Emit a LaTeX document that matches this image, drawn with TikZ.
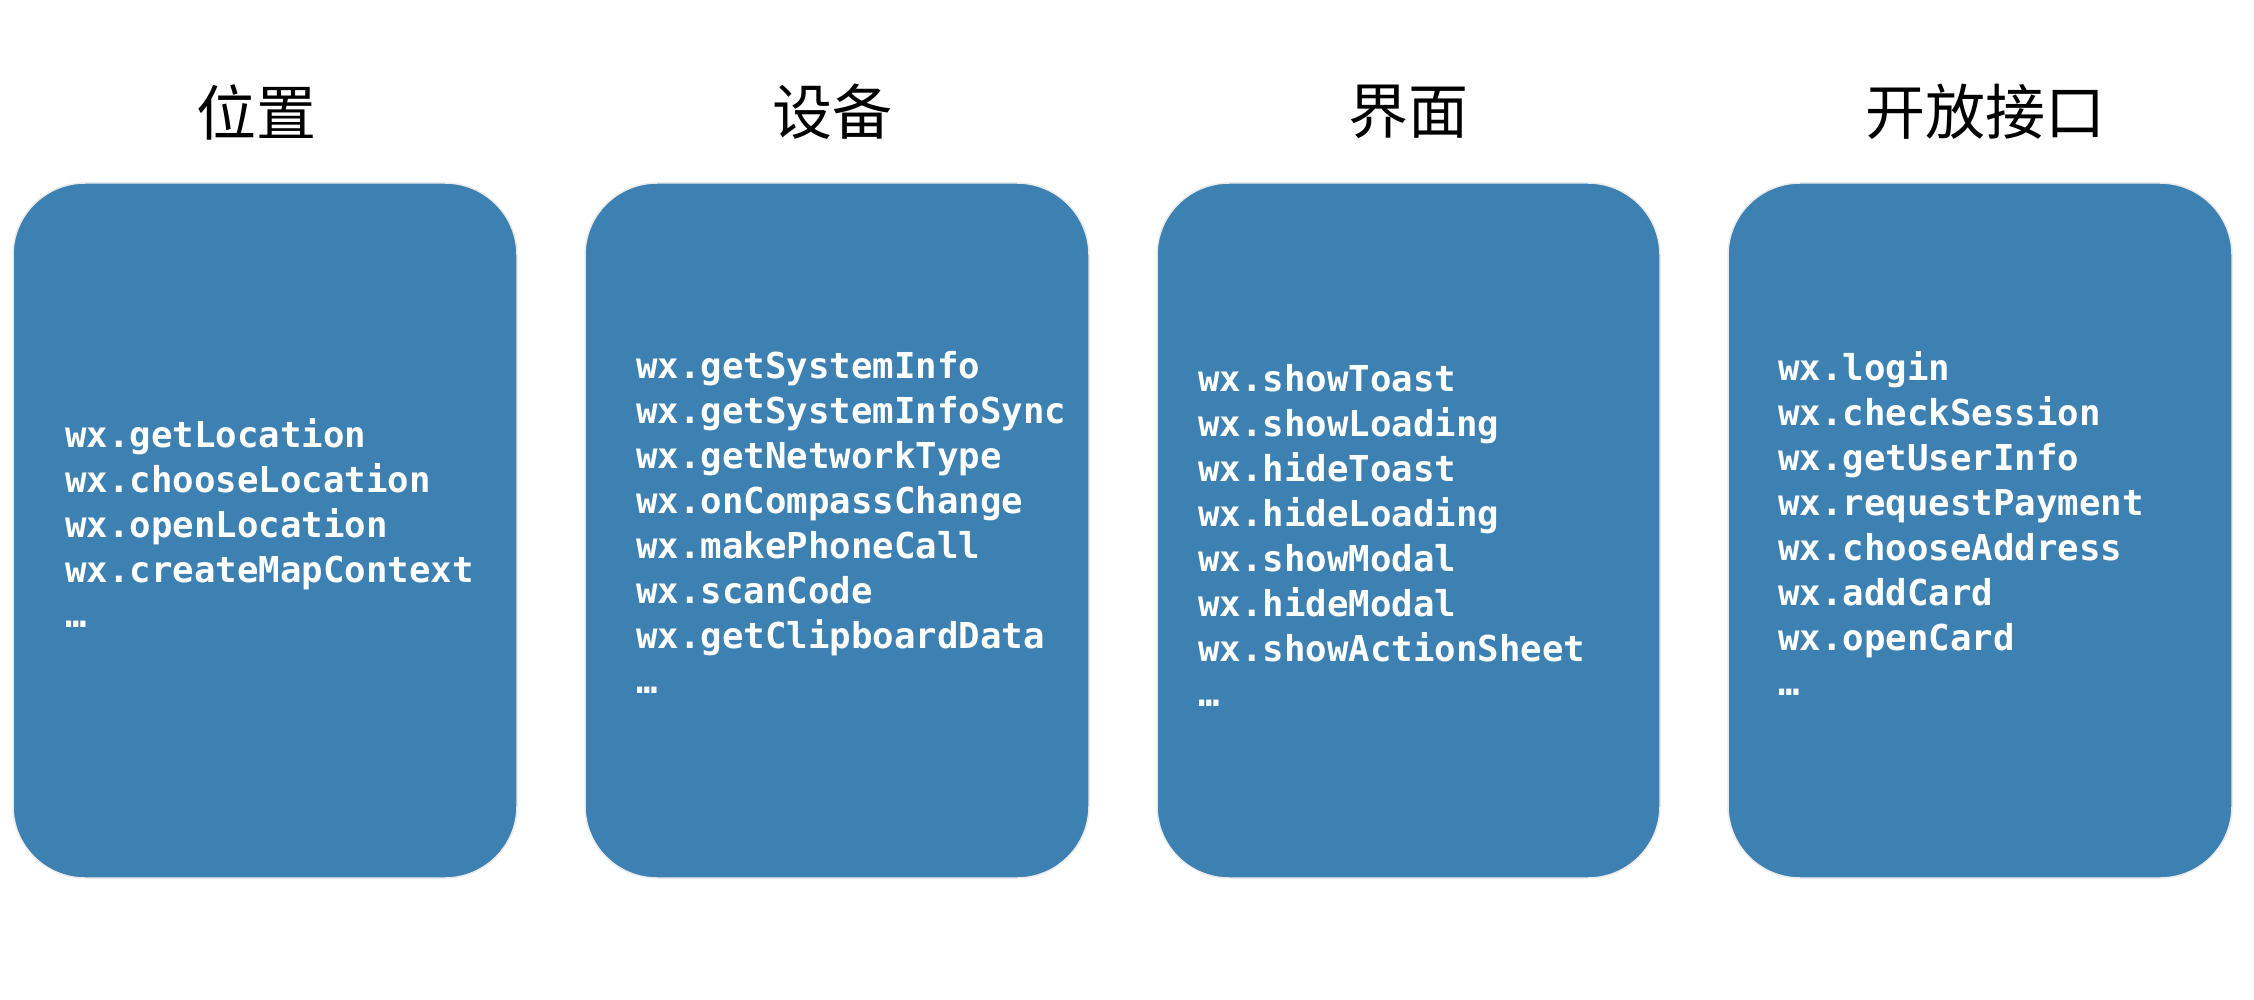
\documentclass[tikz,border=0pt]{standalone}
\usepackage{fontspec}
\newfontfamily\cjk{Noto Sans CJK SC}
\newfontfamily\codefont{DejaVu Sans Mono}
\definecolor{boxblue}{RGB}{61,128,178}
\tikzset{
  apibox/.style={fill=boxblue, draw=black!8, line width=1.5pt, rounded corners=72pt},
  title/.style={font=\cjk\fontsize{60}{70}\selectfont, text=black, inner sep=0pt},
  code/.style={font=\codefont\bfseries\fontsize{35.7}{45}\selectfont, text=white, align=left, inner sep=0pt, anchor=north west}
}
\begin{document}
\begin{tikzpicture}[x=1pt,y=1pt]
\useasboundingbox (0,0) rectangle (2254,-1000);
\fill[white] (0,0) rectangle (2254,-1000);
% boxes
\path[apibox] (13,-183) rectangle (517,-878);
\path[apibox] (585,-183) rectangle (1089,-878);
\path[apibox] (1157,-183) rectangle (1660,-878);
\path[apibox] (1728,-183) rectangle (2232,-878);
% titles
\node[title] (t1) at (256,-112) {位置};
\node[title] (t2) at (832,-112) {设备};
\node[title] (t3) at (1408,-112) {界面};
\node[title] (t4) at (1985,-112) {开放接口};
% code lists
\node[code] (c1) at (65,-418) {wx.getLocation\\wx.chooseLocation\\wx.openLocation\\wx.createMapContext\\…};
\node[code] (c2) at (636,-351) {wx.getSystemInfo\\wx.getSystemInfoSync\\wx.getNetworkType\\wx.onCompassChange\\wx.makePhoneCall\\wx.scanCode\\wx.getClipboardData\\…};
\node[code] (c3) at (1198,-364) {wx.showToast\\wx.showLoading\\wx.hideToast\\wx.hideLoading\\wx.showModal\\wx.hideModal\\wx.showActionSheet\\…};
\node[code] (c4) at (1778,-351) {wx.login\\wx.checkSession\\wx.getUserInfo\\wx.requestPayment\\wx.chooseAddress\\wx.addCard\\wx.openCard\\…};
\end{tikzpicture}
\end{document}
